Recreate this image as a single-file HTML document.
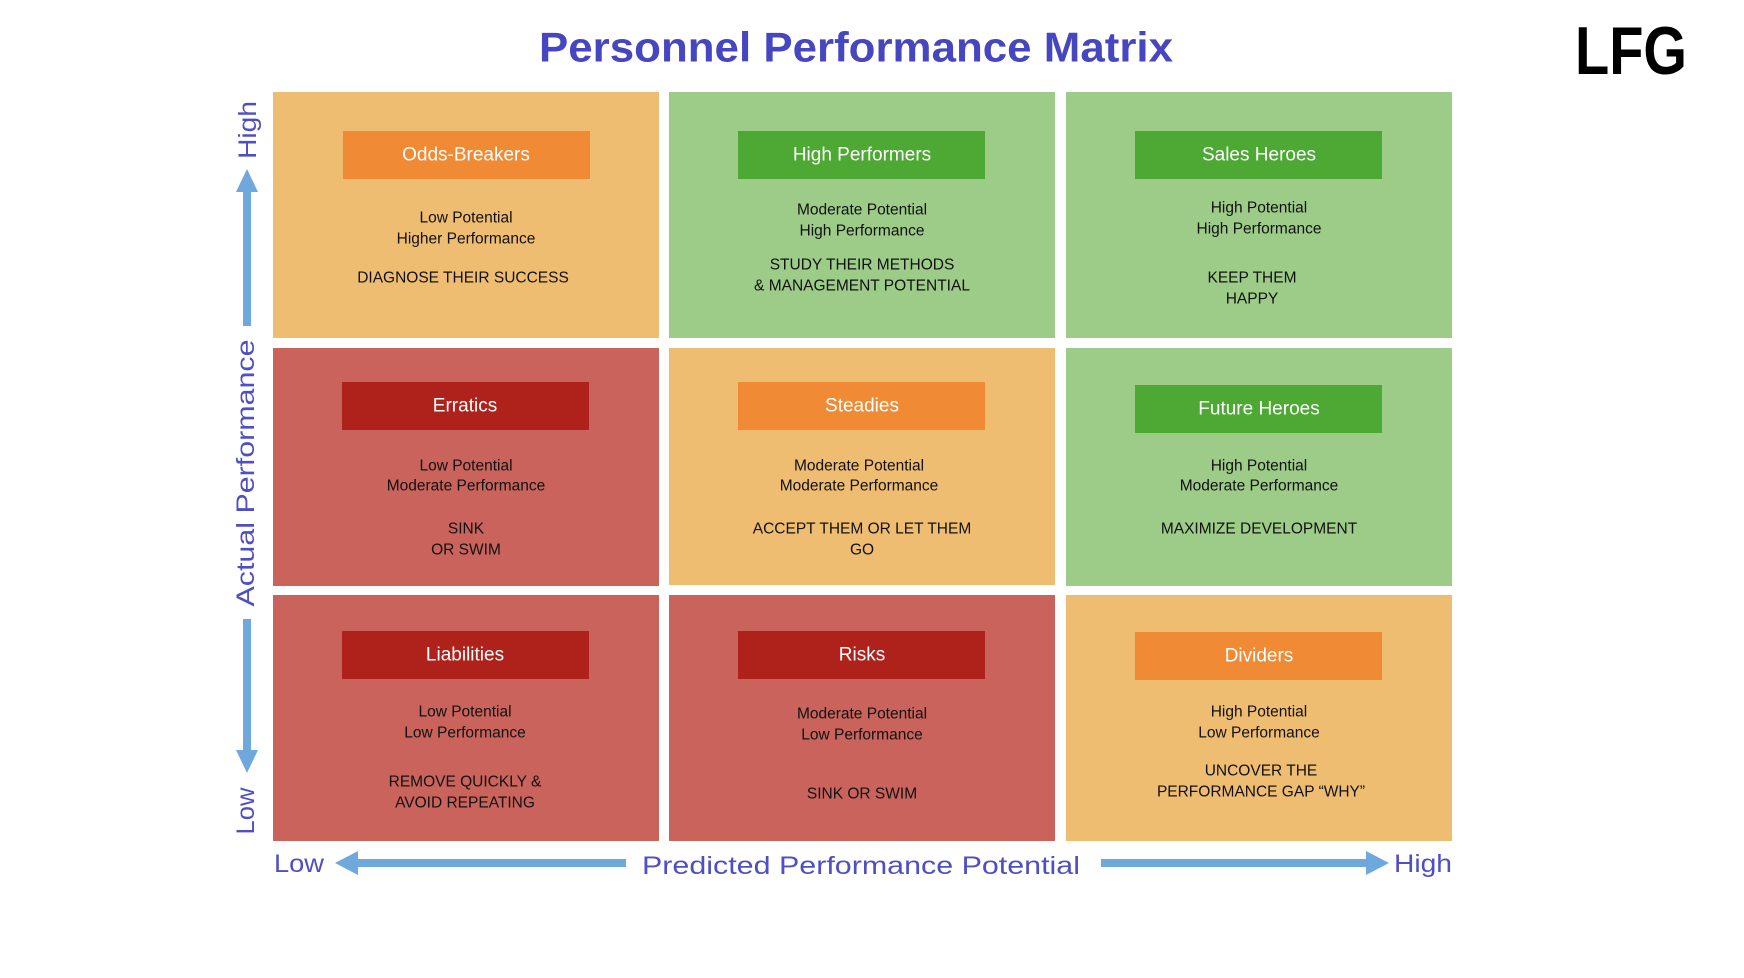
<!DOCTYPE html>
<html><head><meta charset="utf-8"><style>
html,body{margin:0;padding:0;background:#fff;}
svg{display:block;}
.t{font-family:"Liberation Sans",sans-serif;font-size:15.5px;fill:#111;text-anchor:middle;dominant-baseline:central;}
.l{font-family:"Liberation Sans",sans-serif;font-size:19px;fill:#fff;text-anchor:middle;dominant-baseline:central;}
.ax{font-family:"Liberation Sans",sans-serif;font-size:25px;fill:#4F4FC4;dominant-baseline:central;}
</style></head><body>
<svg width="1744" height="978" viewBox="0 0 1744 978" xmlns="http://www.w3.org/2000/svg">
<rect width="1744" height="978" fill="#fff"/>
<text x="856" y="47" font-family="Liberation Sans, sans-serif" font-weight="bold" font-size="42" fill="#4646C0" text-anchor="middle" dominant-baseline="central" textLength="634" lengthAdjust="spacingAndGlyphs">Personnel Performance Matrix</text>
<text x="1631" y="51" font-family="Liberation Sans, sans-serif" font-weight="bold" font-size="68" fill="#000" text-anchor="middle" dominant-baseline="central" textLength="112" lengthAdjust="spacingAndGlyphs">LFG</text>

<!-- cells -->
<rect x="273" y="92" width="386" height="246" fill="#EEBD72"/>
<rect x="669" y="92" width="386" height="246" fill="#9DCB88"/>
<rect x="1066" y="92" width="386" height="246" fill="#9DCB88"/>
<rect x="273" y="348" width="386" height="238" fill="#C9635B"/>
<rect x="669" y="348" width="386" height="237" fill="#EEBD72"/>
<rect x="1066" y="348" width="386" height="238" fill="#9DCB88"/>
<rect x="273" y="595" width="386" height="246" fill="#C9635B"/>
<rect x="669" y="595" width="386" height="246" fill="#C9635B"/>
<rect x="1066" y="595" width="386" height="246" fill="#EEBD72"/>

<!-- labels -->
<rect x="343" y="131" width="247" height="48" fill="#F08A35"/><text class="l" x="466" y="155">Odds-Breakers</text>
<rect x="738" y="131" width="247" height="48" fill="#4DA834"/><text class="l" x="862" y="155">High Performers</text>
<rect x="1135" y="131" width="247" height="48" fill="#4DA834"/><text class="l" x="1259" y="155">Sales Heroes</text>
<rect x="342" y="382" width="247" height="48" fill="#AF211B"/><text class="l" x="465" y="406">Erratics</text>
<rect x="738" y="382" width="247" height="48" fill="#F08A35"/><text class="l" x="862" y="406">Steadies</text>
<rect x="1135" y="385" width="247" height="48" fill="#4DA834"/><text class="l" x="1259" y="409">Future Heroes</text>
<rect x="342" y="631" width="247" height="48" fill="#AF211B"/><text class="l" x="465" y="655">Liabilities</text>
<rect x="738" y="631" width="247" height="48" fill="#AF211B"/><text class="l" x="862" y="655">Risks</text>
<rect x="1135" y="632" width="247" height="48" fill="#F08A35"/><text class="l" x="1259" y="656">Dividers</text>

<!-- cell text -->
<text class="t" x="466" y="218">Low Potential</text>
<text class="t" x="466" y="239">Higher Performance</text>
<text class="t" x="463" y="278">DIAGNOSE THEIR SUCCESS</text>

<text class="t" x="862" y="210">Moderate Potential</text>
<text class="t" x="862" y="231">High Performance</text>
<text class="t" x="862" y="265">STUDY THEIR METHODS</text>
<text class="t" x="862" y="286">&amp; MANAGEMENT POTENTIAL</text>

<text class="t" x="1259" y="208">High Potential</text>
<text class="t" x="1259" y="229">High Performance</text>
<text class="t" x="1252" y="278">KEEP THEM</text>
<text class="t" x="1252" y="299">HAPPY</text>

<text class="t" x="466" y="466">Low Potential</text>
<text class="t" x="466" y="486">Moderate Performance</text>
<text class="t" x="466" y="529">SINK</text>
<text class="t" x="466" y="550">OR SWIM</text>

<text class="t" x="859" y="466">Moderate Potential</text>
<text class="t" x="859" y="486">Moderate Performance</text>
<text class="t" x="862" y="529">ACCEPT THEM OR LET THEM</text>
<text class="t" x="862" y="550">GO</text>

<text class="t" x="1259" y="466">High Potential</text>
<text class="t" x="1259" y="486">Moderate Performance</text>
<text class="t" x="1259" y="529">MAXIMIZE DEVELOPMENT</text>

<text class="t" x="465" y="712">Low Potential</text>
<text class="t" x="465" y="733">Low Performance</text>
<text class="t" x="465" y="782">REMOVE QUICKLY &amp;</text>
<text class="t" x="465" y="803">AVOID REPEATING</text>

<text class="t" x="862" y="714">Moderate Potential</text>
<text class="t" x="862" y="735">Low Performance</text>
<text class="t" x="862" y="794">SINK OR SWIM</text>

<text class="t" x="1259" y="712">High Potential</text>
<text class="t" x="1259" y="733">Low Performance</text>
<text class="t" x="1261" y="771">UNCOVER THE</text>
<text class="t" x="1261" y="792">PERFORMANCE GAP “WHY”</text>

<!-- vertical axis -->
<rect x="243" y="190" width="8" height="136" fill="#6FA8DC"/>
<polygon points="247,169 236,192 258,192" fill="#6FA8DC"/>
<rect x="243" y="619" width="8" height="132" fill="#6FA8DC"/>
<polygon points="247,773 236,750 258,750" fill="#6FA8DC"/>
<text class="ax" transform="translate(248,130) rotate(-90)" text-anchor="middle" textLength="58" lengthAdjust="spacingAndGlyphs">High</text>
<text class="ax" transform="translate(246,473) rotate(-90)" text-anchor="middle" textLength="267" lengthAdjust="spacingAndGlyphs">Actual Performance</text>
<text class="ax" transform="translate(246,811) rotate(-90)" text-anchor="middle" textLength="47" lengthAdjust="spacingAndGlyphs">Low</text>

<!-- horizontal axis -->
<rect x="355" y="859" width="271" height="8" fill="#6FA8DC"/>
<polygon points="335,863 358,851 358,875" fill="#6FA8DC"/>
<rect x="1101" y="859" width="268" height="8" fill="#6FA8DC"/>
<polygon points="1389,863 1366,851 1366,875" fill="#6FA8DC"/>
<text class="ax" x="274" y="864" textLength="50" lengthAdjust="spacingAndGlyphs">Low</text>
<text class="ax" x="642" y="866" textLength="438" lengthAdjust="spacingAndGlyphs">Predicted Performance Potential</text>
<text class="ax" x="1394" y="864" textLength="58" lengthAdjust="spacingAndGlyphs">High</text>
</svg>
</body></html>
